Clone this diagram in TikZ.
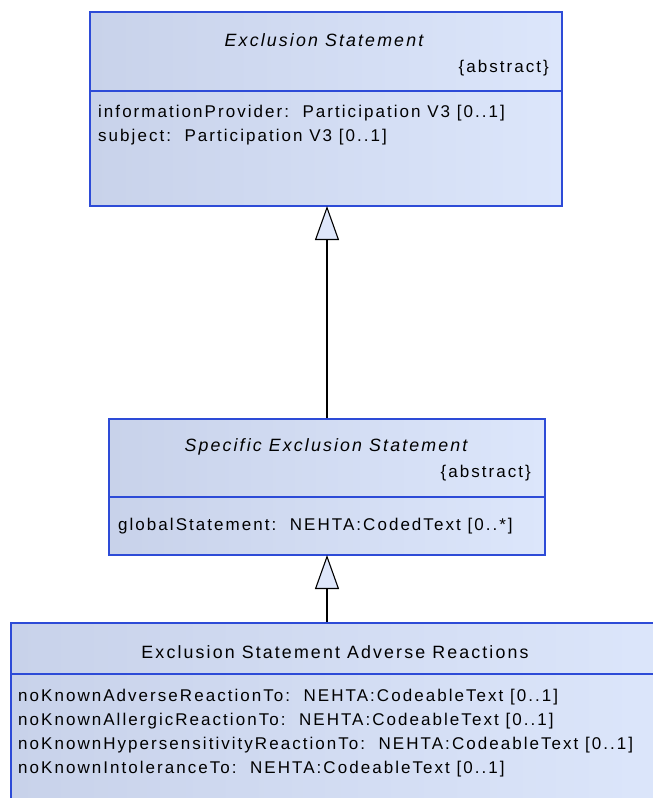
\documentclass[tikz,border=0pt]{standalone}
\usepackage{fontspec}
\setmainfont{Liberation Sans}
\newfontfamily\umlfont[LetterSpace=12]{Liberation Sans}
\usetikzlibrary{arrows.meta}
\definecolor{boxleft}{RGB}{200,210,234}
\definecolor{boxright}{RGB}{220,230,251}
\definecolor{boxline}{RGB}{45,75,215}
\definecolor{trifill}{RGB}{222,230,250}
\tikzset{
  umlbox/.style={draw=boxline, line width=1.6pt, left color=boxleft, right color=boxright, inner sep=0pt, anchor=north west},
  divider/.style={draw=boxline, line width=1.2pt},
  txt/.style={font=\umlfont\fontsize{17}{20}\selectfont, inner sep=0pt, text=black},
  titletxt/.style={txt, font=\umlfont\fontsize{17.8}{20}\selectfont},
  ittxt/.style={txt, font=\umlfont\itshape\fontsize{17.8}{20}\selectfont},
  gen/.style={draw=black, line width=1.3pt, -{Triangle[open, fill=trifill, length=34pt, width=24pt, line width=1.1pt]}}
}
\begin{document}
\begin{tikzpicture}[x=1pt, y=-1pt]
\useasboundingbox (0,0) rectangle (653,798);
\clip (0,0) rectangle (653,798);
% box 1
\node[umlbox, minimum width=472pt, minimum height=194pt] (b1) at (89,11) {};
\draw[divider] (89,91) -- (561,91);
\node[ittxt] (t1) at (324,40) {Exclusion Statement};
\node[txt, anchor=east] (a1) at (549,68) {\{abstract\}};
\node[txt, anchor=west] (p1) at (98,113) {informationProvider:\ \ Participation V3 [0..1]};
\node[txt, anchor=west] (p2) at (98,137) {subject:\ \ Participation V3 [0..1]};
% box 2
\node[umlbox, minimum width=436pt, minimum height=136pt] (b2) at (108,418) {};
\draw[divider] (108,497) -- (544,497);
\node[ittxt] (t2) at (326,447) {Specific Exclusion Statement};
\node[txt, anchor=east] (a2) at (531,473) {\{abstract\}};
\node[txt, anchor=west] (g1) at (118,526) {globalStatement:\ \ NEHTA:CodedText [0..*]};
% box 3
\node[umlbox, minimum width=660pt, minimum height=200pt] (b3) at (10,622) {};
\draw[divider] (10,674) -- (670,674);
\node[titletxt] (t3) at (335,652) {Exclusion Statement Adverse Reactions};
\node[txt, anchor=west] (r1) at (18,697) {noKnownAdverseReactionTo:\ \ NEHTA:CodeableText [0..1]};
\node[txt, anchor=west] (r2) at (18,721) {noKnownAllergicReactionTo:\ \ NEHTA:CodeableText [0..1]};
\node[txt, anchor=west] (r3) at (18,745) {noKnownHypersensitivityReactionTo:\ \ NEHTA:CodeableText [0..1]};
\node[txt, anchor=west] (r4) at (18,769) {noKnownIntoleranceTo:\ \ NEHTA:CodeableText [0..1]};
% generalizations
\coordinate (c1) at (327,206);
\coordinate (c2) at (327,555);
\coordinate (s2) at (327,418);
\coordinate (s3) at (327,622);
\draw[gen] (s2) -- (c1);
\draw[gen] (s3) -- (c2);
\end{tikzpicture}
\end{document}
